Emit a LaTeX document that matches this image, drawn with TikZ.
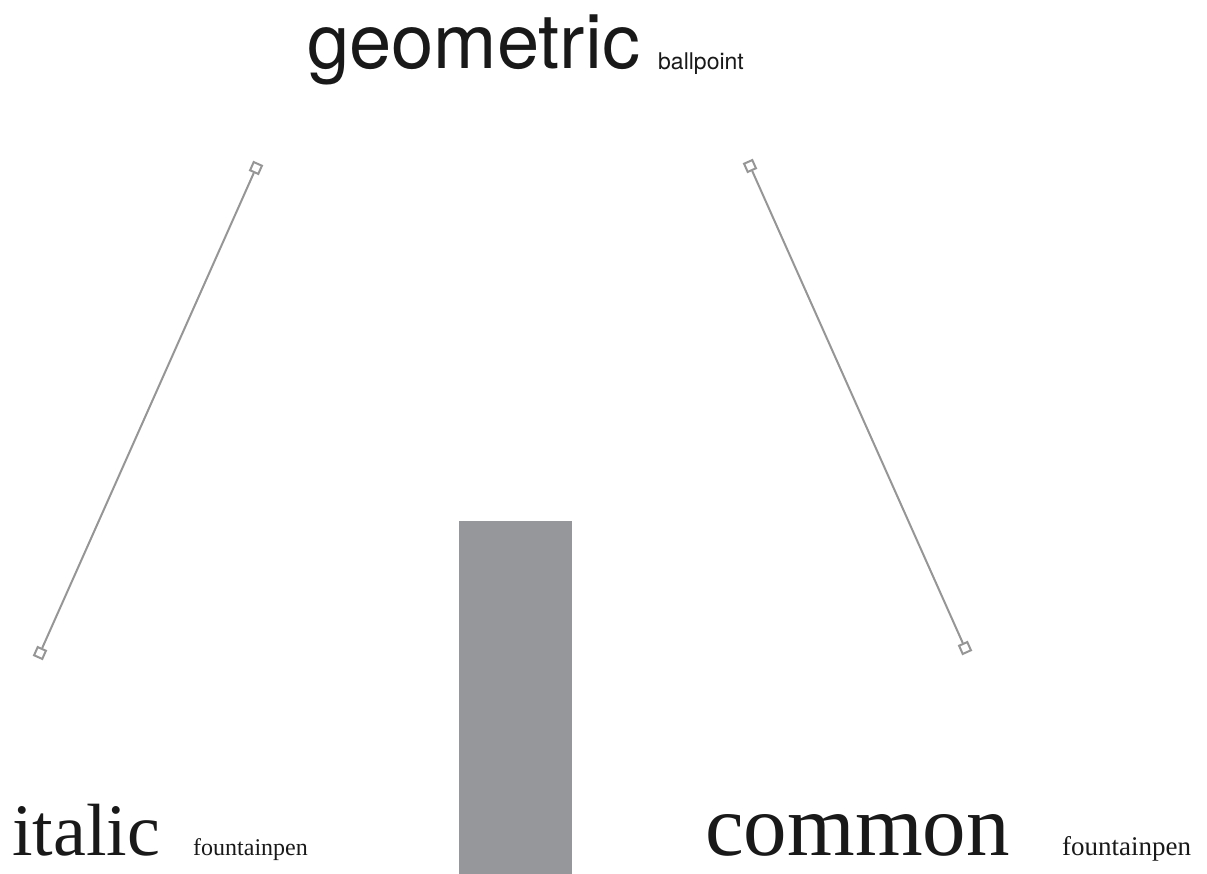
\documentclass[tikz,border=0pt]{standalone}
\usepackage{fontspec}
\setmainfont{Liberation Serif}
\setsansfont{TeX Gyre Heros}
\usepackage{xcolor}
\usetikzlibrary{positioning}
\definecolor{penline}{RGB}{150,150,150}
\definecolor{barfill}{RGB}{150,151,155}
\tikzset{
  handle/.style={draw=penline, line width=2pt, fill=white, rectangle, minimum size=9pt, inner sep=0pt},
  penlink/.style={draw=penline, line width=2pt},
  bigsans/.style={anchor=base west, inner sep=0pt, font=\sffamily\fontsize{76}{76}\selectfont, text=black!90},
  smallsans/.style={anchor=base west, inner sep=0pt, font=\sffamily\fontsize{23}{23}\selectfont, text=black!90},
  bigserif/.style={anchor=base west, inner sep=0pt, text=black!90},
}
\begin{document}
\begin{tikzpicture}[x=1pt, y=-1pt]
        % Cadre
        \useasboundingbox (0,0) rectangle (1207,874);
        
        % Barre
        \fill[barfill] (459,521) rectangle (572,874);
        
        % Poignees
        \node[handle, rotate=66] (lt) at (256,168) {};
        \node[handle, rotate=66] (lb) at (40,653) {};
        \node[handle, rotate=-66] (rt) at (750,166) {};
        \node[handle, rotate=-66] (rb) at (965,648) {};
        
        \draw[penlink] (lt) -- (lb);
        \draw[penlink] (rt) -- (rb);
        
        % Labels
        \node[bigsans] (geo) at (307,69) {geometric};
        \node[smallsans] (ball) at (658,70) {ballpoint};
        \node[bigserif, font=\fontsize{74}{74}\selectfont] (ita) at (12,855) {italic};
        \node[bigserif, font=\fontsize{24}{24}\selectfont] (fpl) at (193,855) {fountainpen};
        \node[bigserif, font=\fontsize{87}{87}\selectfont] (com) at (705,855) {common};
        \node[bigserif, font=\fontsize{27}{27}\selectfont] (fpr) at (1062,855) {fountainpen};
    \end{tikzpicture}
\end{document}
